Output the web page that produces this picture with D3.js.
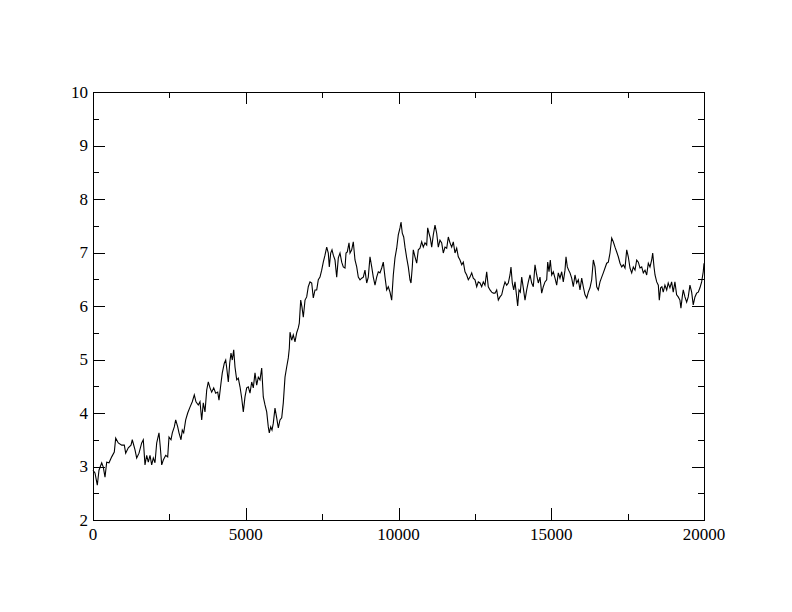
<!DOCTYPE html>
<html><head><meta charset="utf-8">
<script src="https://cdn.jsdelivr.net/npm/d3@7"></script>
<style>html,body{margin:0;padding:0;background:#fff}svg{display:block}
text{font-family:"Liberation Serif","Times New Roman",Times,"DejaVu Serif",serif}</style>
</head><body>
<script>
const xTicks = [0, 5000, 10000, 15000, 20000];
const yTicks = [2, 3, 4, 5, 6, 7, 8, 9, 10];
const stepX = [0,65,141,196,285,337,393,448,524,612,697,743,828,939,1025,1070,1155,1244,1286,1375,1430,1506,1594,1646,1702,1758,1810,1866,1921,1974,2029,2085,2160,2203,2249,2301,2380,2445,2488,2553,2596,2661,2707,2773,2815,2880,2923,2969,3034,3100,3175,3250,3316,3371,3447,3502,3558,3610,3666,3722,3774,3830,3885,3951,4016,4082,4124,4190,4232,4298,4344,4386,4429,4475,4517,4560,4606,4648,4704,4756,4812,4867,4920,
4975,5031,5083,5139,5195,5247,5303,5358,5411,5466,5522,5574,5630,5686,5738,5771,5817,5859,5902,5957,6013,6066,6121,6177,6229,6285,6340,6393,6426,6449,
6504,6556,6612,6668,6720,6753,6799,6841,6884,6940,6995,7047,7103,7159,7211,7267,7323,7375,7430,7486,7538,7594,7650,7702,7735,7781,7823,7866,7921,7977,8030,8085,8141,8193,8249,8282,8324,8380,8413,8468,8520,8576,8632,8684,8740,8795,8848,8903,8959,9011,9067,9123,9175,9231,9286,9339,9394,9450,9502,9558,9613,9666,9722,9777,9830,9885,
9941,9993,10049,10082,10124,10170,10213,10268,10321,10376,10409,10451,10484,10540,10596,10648,10704,10759,10812,10867,10923,10955,10998,11041,11087,11139,11195,11250,11303,11358,11414,11466,11522,11578,11630,11686,11741,11794,11849,11905,11957,12013,12069,12121,12177,12232,12285,12340,12396,12448,12504,12560,12612,12668,12723,12776,12831,12887,12939,12995,13051,13103,13159,13214,13267,13322,13378,13430,13486,13541,13594,13649,13682,13725,13771,13813,13869,13901,13944,13987,14033,14085,14141,14196,14249,14305,14360,14413,14468,14524,14576,14632,14687,14740,14795,14851,14884,14927,14969,
15015,15067,15123,15178,15231,15286,15342,15394,15450,15483,15526,15571,15614,15669,15722,15777,15833,15886,15941,15997,16049,16105,16161,16213,16268,16324,16377,16432,16488,16540,16596,16652,16704,16760,16815,16868,16923,16979,17031,17087,17143,17195,17251,17306,17359,17414,17470,17522,17578,17634,17686,17742,17797,17850,17905,17961,18013,18069,18124,18177,18232,18288,18321,18364,18397,18452,18505,18537,18580,18622,18665,18721,18779,18829,18885,18940,18993,19048,19104,19156,19212,19245,19288,19321,19376,19432,19484,19540,19596,19648,19704,19759,19812,19867,19923,19975,20000];
const values = [2.93,2.88,2.65,2.93,3.07,2.99,2.80,3.08,3.07,3.18,3.27,3.53,3.44,3.40,3.40,3.25,3.35,3.40,3.50,3.31,3.16,3.25,3.44,3.50,3.03,3.21,3.08,3.21,3.03,3.16,3.07,3.44,3.63,3.36,3.03,3.12,3.21,3.18,3.55,3.50,3.63,3.74,3.87,3.74,3.63,3.50,3.68,3.63,3.87,4.00,4.11,4.21,4.34,4.21,4.15,4.21,3.87,4.19,4.02,4.43,4.58,4.47,4.39,4.47,4.37,4.39,4.24,4.56,4.75,4.93,4.99,4.80,4.58,4.93,5.12,4.99,5.18,4.86,4.62,4.65,4.49,4.28,4.02,
4.30,4.47,4.49,4.37,4.58,4.47,4.75,4.52,4.67,4.62,4.84,4.30,4.15,4.02,3.74,3.63,3.74,3.68,3.81,4.09,3.91,3.72,3.87,3.91,4.19,4.67,4.86,5.03,5.21,5.51,
5.36,5.46,5.33,5.50,5.59,5.68,6.11,5.98,5.79,6.11,6.17,6.36,6.45,6.43,6.15,6.30,6.30,6.49,6.54,6.67,6.82,6.95,7.10,6.99,6.73,6.99,7.05,6.95,6.86,6.54,6.90,6.99,6.82,6.73,6.71,6.99,7.01,7.18,6.99,7.05,7.20,6.86,6.73,6.54,6.49,6.52,6.54,6.67,6.43,6.54,6.92,6.73,6.54,6.39,6.54,6.64,6.62,6.71,6.82,6.54,6.30,6.36,6.26,6.11,6.58,6.90,
7.08,7.33,7.46,7.57,7.36,7.29,7.10,6.90,6.73,6.49,6.43,6.73,7.05,6.92,6.80,7.05,7.08,7.20,7.10,7.18,7.14,7.46,7.36,7.27,7.10,7.33,7.51,7.36,7.10,7.23,7.18,6.99,7.10,7.08,7.29,7.18,7.10,7.20,6.99,7.08,6.92,6.86,6.77,6.82,6.64,6.58,6.49,6.54,6.62,6.52,6.49,6.36,6.45,6.43,6.36,6.45,6.39,6.64,6.36,6.30,6.26,6.24,6.24,6.30,6.11,6.17,6.21,6.34,6.45,6.39,6.43,6.58,6.73,6.43,6.30,6.45,6.17,6.00,6.30,6.26,6.54,6.34,6.11,6.30,6.45,6.58,6.43,6.36,6.77,6.58,6.43,6.54,6.24,6.36,6.45,6.49,6.82,6.64,6.86,
6.58,6.64,6.52,6.39,6.62,6.52,6.64,6.45,6.67,6.92,6.73,6.67,6.62,6.52,6.36,6.58,6.43,6.49,6.30,6.52,6.36,6.21,6.15,6.26,6.34,6.49,6.86,6.73,6.36,6.30,6.45,6.54,6.62,6.71,6.80,6.82,6.99,7.27,7.20,7.10,7.01,6.92,6.80,6.73,6.77,6.71,7.05,6.92,6.71,6.62,6.73,6.67,6.86,6.82,6.71,6.73,6.62,6.67,6.58,6.80,6.73,6.86,6.99,6.73,6.58,6.45,6.39,6.11,6.34,6.36,6.26,6.39,6.30,6.43,6.34,6.45,6.26,6.45,6.21,6.17,6.11,5.96,6.17,6.30,6.17,6.07,6.17,6.39,6.26,6.02,6.17,6.24,6.26,6.34,6.45,6.64,6.80];

const W = 792, H = 612;
const m = {left: 93, right: 704, top: 92, bottom: 520};
const svg = d3.select("body").append("svg").attr("width", W).attr("height", H);
svg.append("rect").attr("width", W).attr("height", H).attr("fill", "#fff");

const x = d3.scaleLinear().domain([0, 20000]).range([m.left, m.right]);
const y = d3.scaleLinear().domain([2, 10]).range([m.bottom, m.top]);

const minorX = d3.range(0, 20001, 2500).filter(v => v % 5000 !== 0);
const minorY = d3.range(2.5, 10, 1);

const g = svg.append("g");
function axes(sel, axisFn, scale, tr, major, minor) {
  const a = sel.append("g").attr("transform", tr);
  a.call(axisFn(scale).tickValues(major).tickSize(-12).tickFormat(""));
  a.append("g").call(axisFn(scale).tickValues(minor).tickSize(-6).tickFormat(""));
  a.selectAll(".domain").remove();
  a.selectAll("line").attr("stroke", "#000").attr("stroke-width", 1).attr("shape-rendering", "crispEdges");
  return a;
}
axes(g, d3.axisBottom, x, `translate(0,${m.bottom})`, xTicks, minorX);
axes(g, d3.axisTop, x, `translate(0,${m.top})`, xTicks, minorX);
axes(g, d3.axisLeft, y, `translate(${m.left},0)`, yTicks, minorY);
axes(g, d3.axisRight, y, `translate(${m.right},0)`, yTicks, minorY);

svg.append("rect").attr("x", m.left).attr("y", m.top)
  .attr("width", m.right - m.left).attr("height", m.bottom - m.top)
  .attr("fill", "none").attr("stroke", "#000").attr("stroke-width", 1)
  .attr("shape-rendering", "crispEdges");

svg.append("g").selectAll("text").data(xTicks).join("text")
  .attr("x", d => x(d)).attr("y", m.bottom + 19.5)
  .attr("text-anchor", "middle").attr("font-size", 17).attr("fill", "#000")
  .text(d => d);
svg.append("g").selectAll("text").data(yTicks).join("text")
  .attr("x", m.left - 5).attr("y", d => y(d) + 5.8)
  .attr("text-anchor", "end").attr("font-size", 17).attr("fill", "#000")
  .text(d => d);

const pts = stepX.map((s, i) => [s, values[i]]);
svg.append("path").datum(pts)
  .attr("d", d3.line().x(d => x(d[0])).y(d => y(d[1])))
  .attr("fill", "none").attr("stroke", "#000").attr("stroke-width", 1.1);
</script>
</body></html>
